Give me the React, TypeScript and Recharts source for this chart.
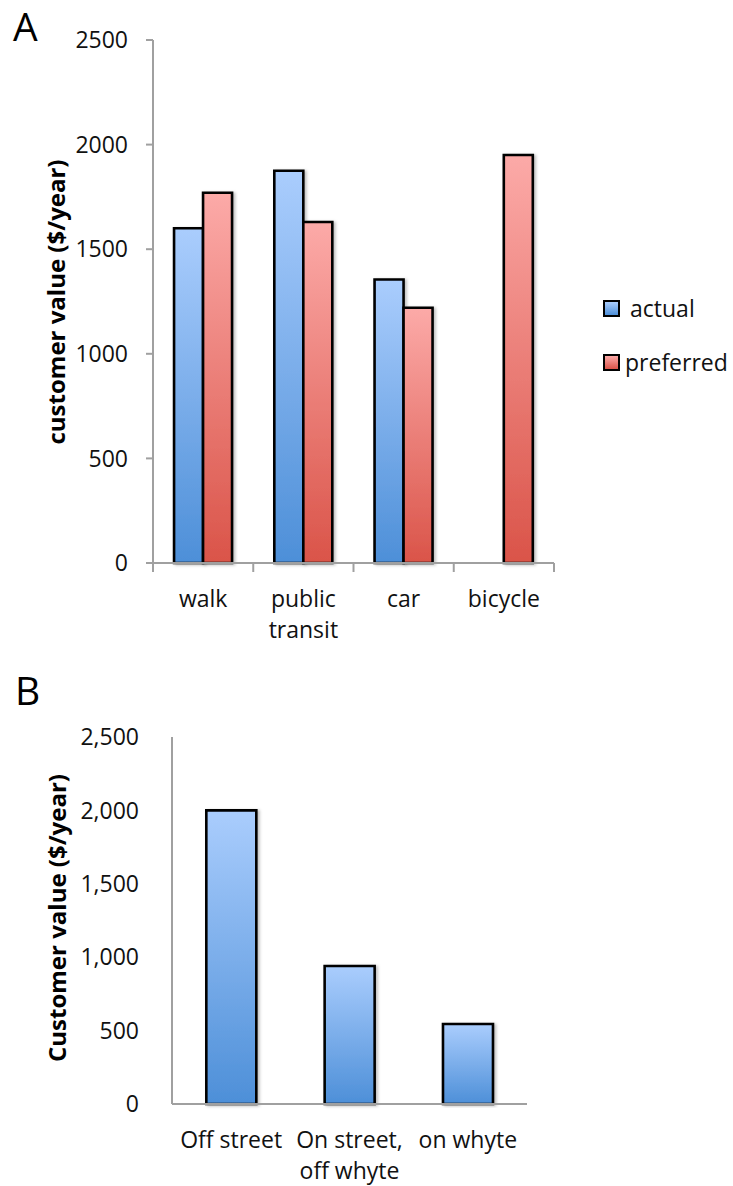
import { Bar, BarChart, XAxis, YAxis } from "recharts";

const modes = ["walk", "public\ntransit", "car", "bicycle"];
const actualValues = [1600, 1875, 1355, null];
const preferredValues = [1770, 1630, 1220, 1950];
const ticksA = [0, 500, 1000, 1500, 2000, 2500];

const parking = ["Off street", "On street,\noff whyte", "on whyte"];
const parkingValues = [2000, 940, 545];
const ticksB = [0, 500, 1000, 1500, 2000, 2500];

const FONT = "'Open Sans', sans-serif";
const AXIS = "#a0a0a0";
const LABEL_GAP = 28;
const BAR_EDGE = 2.6;

const modeData = modes.map((m, i) => ({ mode: m, actual: actualValues[i], preferred: preferredValues[i] }));
const parkingData = parking.map((p, i) => ({ spot: p, value: parkingValues[i] }));

// category label, optionally with Excel-style tick marks on the band edges
function LinesTick({ x, y, payload, index, visibleTicksCount, edges }: any) {
  const lines = String(payload.value).split("\n");
  const half = payload.offset || 0;
  const axisY = y - LABEL_GAP;
  const last = index === visibleTicksCount - 1;
  return (
    <g>
      {edges && <line x1={x - half} x2={x - half} y1={axisY} y2={axisY + 9} stroke={AXIS} strokeWidth={2} />}
      {edges && last && <line x1={x + half} x2={x + half} y1={axisY} y2={axisY + 9} stroke={AXIS} strokeWidth={2} />}
      <text x={x} y={y} textAnchor="middle" fill="#111" fontSize={23} fontFamily={FONT}>
        {lines.map((ln, i) => (
          <tspan key={i} x={x} dy={i === 0 ? "0.71em" : 31}>
            {ln}
          </tspan>
        ))}
      </text>
    </g>
  );
}

function Gradients() {
  return (
    <defs>
      <linearGradient id="blueFill" x1="0" y1="0" x2="0" y2="1">
        <stop offset="0%" stopColor="#aacdfd" />
        <stop offset="100%" stopColor="#4d8fd8" />
      </linearGradient>
      <linearGradient id="redFill" x1="0" y1="0" x2="0" y2="1">
        <stop offset="0%" stopColor="#fcaaa8" />
        <stop offset="100%" stopColor="#da5449" />
      </linearGradient>
      <filter id="barShadow" x="-20%" y="-5%" width="140%" height="110%">
        <feDropShadow dx="2" dy="1" stdDeviation="1.5" floodColor="#000" floodOpacity="0.25" />
      </filter>
    </defs>
  );
}

function ModeLegend() {
  const items = [
    { name: "actual", bg: "linear-gradient(#aacdfd, #4d8fd8)", gap: 10 },
    { name: "preferred", bg: "linear-gradient(#fcaaa8, #da5449)", gap: 5 },
  ];
  return (
    <div style={{ fontFamily: FONT, fontSize: 23, color: "#111" }}>
      {items.map((it) => (
        <div key={it.name} style={{ display: "flex", alignItems: "center", height: 54 }}>
          <span
            style={{
              display: "inline-block",
              width: 13,
              height: 13,
              border: "2.5px solid #000",
              background: it.bg,
              marginRight: it.gap,
            }}
          />
          <span>{it.name}</span>
        </div>
      ))}
    </div>
  );
}

function YTitle({ text, cx, cy }: { text: string; cx: number; cy: number }) {
  return (
    <text
      transform={`translate(${cx},${cy}) rotate(-90)`}
      textAnchor="middle"
      dominantBaseline="central"
      fontFamily={FONT}
      fontWeight="bold"
      fontSize={24}
      fill="#000"
    >
      {text}
    </text>
  );
}

export default function App() {
  return (
    <div style={{ position: "absolute", left: 0, top: 0, width: 733, height: 1186, background: "#fff" }}>
      <div style={{ position: "absolute", left: 13, top: 0, fontFamily: FONT, fontSize: 39, lineHeight: "52px" }}>A</div>
      <div style={{ position: "absolute", left: 0, top: 0 }}>
        <BarChart
          width={733}
          height={660}
          data={modeData}
          margin={{ top: 40, right: 179, bottom: 0, left: 0 }}
          barCategoryGap="21%"
          barGap={0}
        >
          <Gradients />
          <XAxis
            dataKey="mode"
            height={97}
            axisLine={{ stroke: AXIS, strokeWidth: 2 }}
            tickLine={false}
            tickSize={0}
            tickMargin={LABEL_GAP}
            interval={0}
            tick={<LinesTick edges />}
          />
          <YAxis
            width={153}
            domain={[0, 2500]}
            ticks={ticksA}
            interval={0}
            axisLine={{ stroke: AXIS, strokeWidth: 2 }}
            tickLine={{ stroke: AXIS, strokeWidth: 2 }}
            tickSize={7}
            tickMargin={18}
            tick={{ fill: "#111", fontSize: 23, fontFamily: FONT }}
            label={{ content: () => <YTitle text="customer value ($/year)" cx={55} cy={302} /> }}
          />
          <Bar dataKey="actual" name="actual" fill="url(#blueFill)" stroke="#000" strokeWidth={BAR_EDGE} filter="url(#barShadow)" isAnimationActive={false} />
          <Bar dataKey="preferred" name="preferred" fill="url(#redFill)" stroke="#000" strokeWidth={BAR_EDGE} filter="url(#barShadow)" isAnimationActive={false} />
        </BarChart>
      </div>
      <div style={{ position: "absolute", left: 603, top: 281 }}>
        <ModeLegend />
      </div>

      <div style={{ position: "absolute", left: 15, top: 664, fontFamily: FONT, fontSize: 39, lineHeight: "52px" }}>B</div>
      <div style={{ position: "absolute", left: 0, top: 660 }}>
        <BarChart
          width={733}
          height={526}
          data={parkingData}
          margin={{ top: 77, right: 206, bottom: 0, left: 0 }}
          barCategoryGap="29%"
        >
          <Gradients />
          <XAxis
            dataKey="spot"
            height={82}
            axisLine={{ stroke: AXIS, strokeWidth: 2 }}
            tickLine={false}
            tickSize={0}
            tickMargin={LABEL_GAP}
            interval={0}
            tick={<LinesTick />}
          />
          <YAxis
            width={172}
            domain={[0, 2500]}
            ticks={ticksB}
            interval={0}
            axisLine={{ stroke: AXIS, strokeWidth: 2 }}
            tickLine={false}
            tickSize={0}
            tickMargin={33}
            tickFormatter={(v: number) => v.toLocaleString("en-US")}
            tick={{ fill: "#111", fontSize: 23, fontFamily: FONT }}
            label={{ content: () => <YTitle text="Customer value ($/year)" cx={56} cy={258} /> }}
          />
          <Bar dataKey="value" fill="url(#blueFill)" stroke="#000" strokeWidth={BAR_EDGE} filter="url(#barShadow)" isAnimationActive={false} />
        </BarChart>
      </div>
    </div>
  );
}
